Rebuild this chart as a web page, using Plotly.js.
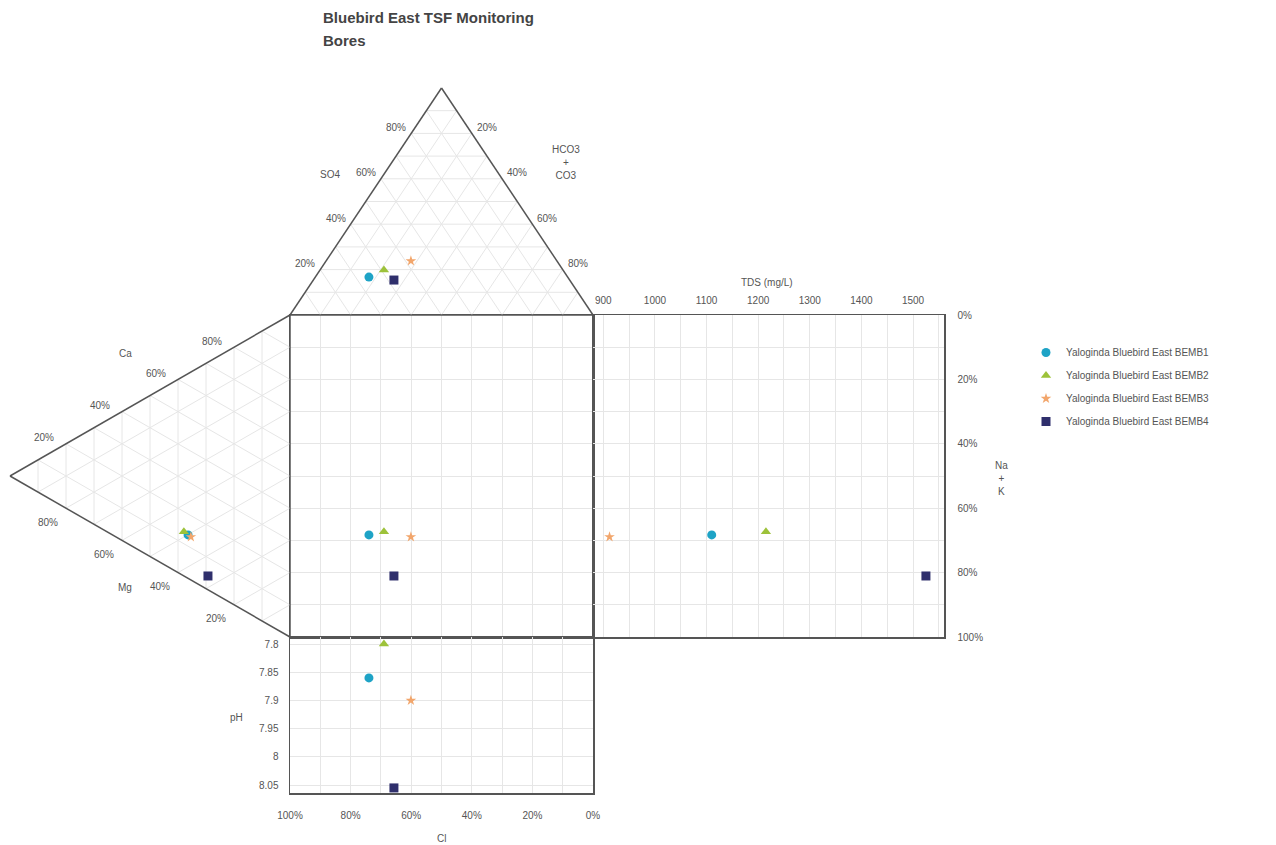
<!DOCTYPE html>
<html><head><meta charset="utf-8">
<script src="https://cdn.plot.ly/plotly-3.0.1.min.js"></script>
<style>html,body{margin:0;padding:0;background:#fff}#chart{width:1276px;height:845px}</style>
</head><body><div id="chart"></div>
<script>
// ---------------- DATA ----------------
const samples = ['Yaloginda Bluebird East BEMB1','Yaloginda Bluebird East BEMB2','Yaloginda Bluebird East BEMB3','Yaloginda Bluebird East BEMB4'];
// cations (% meq/L)
const ca  = [13.5, 13.7, 13.4, 4.3];
const mg  = [36.4, 37.9, 35.4, 29.3];
const naK = [50.1, 48.4, 51.2, 66.4];
// anions (% meq/L)
const cl   = [65.6, 59.1, 48.2, 58.0];
const so4  = [16.7, 19.8, 23.8, 15.4];
const hco3 = [17.7, 21.1, 28.0, 26.6];
// TDS (mg/L) and pH
const tds = [1110, 1215, 912, 1525];
const ph  = [7.86, 7.80, 7.90, 8.055];
const pctTicks = [0, 20, 40, 60, 80, 100];
const triTicks = [20, 40, 60, 80];
const titleLines = ['Bluebird East TSF Monitoring', 'Bores'];

// ---------------- STYLE / LAYOUT ----------------
const colors  = ['#1ea3c6', '#9dc23a', '#f2a66c', '#2f2f6c'];
const symbols = ['circle', 'triangle-up', 'star', 'square'];
const sizes   = [9, 9, 8, 9];
const W = 1276, H = 845;
const PX = {L: 290, R: 593, T: 315, B: 637, PB: 793, TR: 944, APEX_Y: 88, LAPEX_X: 10};
const sx = (PX.R - PX.L) / 100, sy = (PX.B - PX.T) / 100;
const TOP_H = (PX.T - PX.APEX_Y) / sy;
const LEFT_W = (PX.L - PX.LAPEX_X) / sx;
const fx = p => p / W, fy = p => 1 - p / H;
const FONT = 'Liberation Sans, Arial, sans-serif';
const TXT = '#555';
const GRID = '#e6e6e6';
const EDGE = '#555';

// geometry transforms (data % -> diagram units; square = 0..100 both ways, y down)
const topPt  = (s, h) => [s / 2 + h, -s / 100 * TOP_H];
const leftPt = (m, n) => [-LEFT_W * m / 100, m / 2 + n];

function segs(pairs) {
  const x = [], y = [];
  pairs.forEach(([a, b]) => { x.push(a[0], b[0], null); y.push(a[1], b[1], null); });
  return {x, y};
}
const steps = [10, 20, 30, 40, 50, 60, 70, 80, 90];
const topGrid = [], leftGrid = [];
steps.forEach(p => {
  topGrid.push([topPt(p, 0), topPt(p, 100 - p)]);
  topGrid.push([topPt(0, p), topPt(100 - p, p)]);
  topGrid.push([topPt(100 - p, 0), topPt(0, 100 - p)]);
  leftGrid.push([leftPt(p, 0), leftPt(p, 100 - p)]);
  leftGrid.push([leftPt(0, p), leftPt(100 - p, p)]);
  leftGrid.push([leftPt(100 - p, 0), leftPt(0, 100 - p)]);
});
const tg = segs(topGrid), lg = segs(leftGrid);
const topEdge = segs([[topPt(0,0), topPt(100,0)], [topPt(100,0), topPt(0,100)], [topPt(0,100), topPt(0,0)]]);
const leftEdge = segs([[leftPt(0,0), leftPt(100,0)], [leftPt(100,0), leftPt(0,100)], [leftPt(0,100), leftPt(0,0)]]);

const traces = [
  {type:'scatter', mode:'lines', x:tg.x, y:tg.y, xaxis:'x4', yaxis:'y4', line:{color:GRID, width:1}, hoverinfo:'skip', showlegend:false},
  {type:'scatter', mode:'lines', x:lg.x, y:lg.y, xaxis:'x4', yaxis:'y4', line:{color:GRID, width:1}, hoverinfo:'skip', showlegend:false},
  {type:'scatter', mode:'lines', x:topEdge.x, y:topEdge.y, xaxis:'x4', yaxis:'y4', line:{color:EDGE, width:1.5}, hoverinfo:'skip', showlegend:false},
  {type:'scatter', mode:'lines', x:leftEdge.x, y:leftEdge.y, xaxis:'x4', yaxis:'y4', line:{color:EDGE, width:1.5}, hoverinfo:'skip', showlegend:false}
];

samples.forEach((name, i) => {
  const mk = {color: colors[i], symbol: symbols[i], size: sizes[i]};
  const sqx = 100 - (so4[i] / 2 + hco3[i]);
  const sqy = mg[i] / 2 + naK[i];
  const tp = topPt(so4[i], hco3[i]);
  const lp = leftPt(mg[i], naK[i]);
  traces.push({type:'scatter', mode:'markers', name, legendgroup:'g'+i, x:[sqx], y:[sqy], xaxis:'x', yaxis:'y', marker:mk, showlegend:true});
  traces.push({type:'scatter', mode:'markers', name, legendgroup:'g'+i, x:[tds[i]], y:[sqy], xaxis:'x3', yaxis:'y3', marker:mk, showlegend:false});
  traces.push({type:'scatter', mode:'markers', name, legendgroup:'g'+i, x:[sqx], y:[ph[i]], xaxis:'x2', yaxis:'y2', marker:mk, showlegend:false, cliponaxis:false});
  traces.push({type:'scatter', mode:'markers', name, legendgroup:'g'+i, x:[tp[0], lp[0]], y:[tp[1], lp[1]], xaxis:'x4', yaxis:'y4', marker:mk, showlegend:false});
});

const tickFont = {family: FONT, size: 10, color: TXT};
const annotations = [];
const note = (px, py, text, extra) => annotations.push(Object.assign({xref:'paper', yref:'paper', x: fx(px), y: fy(py), text, showarrow:false, font: tickFont, xanchor:'center', yanchor:'middle'}, extra || {}));
const triNote = (pt, text, xanchor, xshift, yshift) => annotations.push({xref:'x4', yref:'y4', x:pt[0], y:pt[1], text, showarrow:false, font:tickFont, xanchor, yanchor:'middle', xshift, yshift});

triTicks.forEach(v => {
  triNote(topPt(v, 0), v + '%', 'right', -3, 6);
  triNote(topPt(100 - v, v), v + '%', 'left', 3, 6);
  triNote(leftPt(100 - v, 0), v + '%', 'right', -10, 6);
  triNote(leftPt(v, 100 - v), v + '%', 'right', -6, -14);
});

const titleFont = {family: FONT, size: 15, color: '#444'};
titleLines.forEach((t, k) => note(321, 17 + 23 * k, '<b>' + t + '</b>', {xanchor: 'left', font: titleFont}));
note(330, 175, 'SO4');
note(566, 162, 'HCO3<br>+<br>CO3');
note(125, 353, 'Ca');
note(125, 587, 'Mg');
note(767, 282, 'TDS (mg/L)');
note(1001, 478, 'Na<br>+<br>K');
note(236, 717, 'pH');
note(441, 838, 'Cl');

const layout = {
  width: W, height: H,
  margin: {l:0, r:0, t:0, b:0},
  paper_bgcolor: '#fff', plot_bgcolor: 'rgba(0,0,0,0)',
  font: {family: FONT, size: 10, color: TXT},
  showlegend: true,
  legend: {x: fx(1026), y: fy(338), xanchor: 'left', yanchor: 'top', font: {family: FONT, size: 10, color: TXT}, tracegroupgap: 4, bgcolor: 'rgba(0,0,0,0)'},
  xaxis: {domain: [fx(PX.L), fx(PX.R)], range: [100, 0], anchor: 'y', dtick: 10, showticklabels: false, ticks: '', gridcolor: GRID, zeroline: false, showline: true, mirror: true, linecolor: EDGE, linewidth: 1.5},
  yaxis: {domain: [fy(PX.B), fy(PX.T)], range: [100, 0], anchor: 'x', dtick: 10, showticklabels: false, ticks: '', gridcolor: GRID, zeroline: false, showline: true, mirror: true, linecolor: EDGE, linewidth: 1.5},
  xaxis2: {domain: [fx(PX.L), fx(PX.R)], range: [100, 0], anchor: 'y2', tickmode: 'array', tickvals: pctTicks, ticktext: pctTicks.map(v => v + '%'), ticks: '', ticklabelstandoff: 12, minor: {dtick: 10, tick0: 0, showgrid: true, gridcolor: GRID}, gridcolor: GRID, zeroline: false, showline: true, mirror: true, linecolor: EDGE, linewidth: 1.5, tickfont: tickFont},
  yaxis2: {domain: [fy(PX.PB), fy(PX.B)], range: [8.064, 7.7875], anchor: 'x2', dtick: 0.05, tick0: 7.8, ticks: '', ticklabelstandoff: 8, gridcolor: GRID, zeroline: false, showline: true, mirror: true, linecolor: EDGE, linewidth: 1.5, tickfont: tickFont},
  xaxis3: {domain: [fx(PX.R), fx(PX.TR)], range: [880, 1560], anchor: 'y3', side: 'top', dtick: 100, tick0: 0, ticks: '', ticklabelstandoff: 6, minor: {dtick: 50, showgrid: true, gridcolor: GRID}, gridcolor: GRID, zeroline: false, showline: true, mirror: true, linecolor: EDGE, linewidth: 1.5, tickfont: tickFont},
  yaxis3: {domain: [fy(PX.B), fy(PX.T)], range: [100, 0], anchor: 'x3', side: 'right', tickmode: 'array', tickvals: pctTicks, ticktext: pctTicks.map(v => v + '%'), ticks: '', ticklabelstandoff: 10, minor: {dtick: 10, tick0: 0, showgrid: true, gridcolor: GRID}, gridcolor: GRID, zeroline: false, showline: true, mirror: true, linecolor: EDGE, linewidth: 1.5, tickfont: tickFont},
  xaxis4: {domain: [0, 1], range: [-PX.L / sx, (W - PX.L) / sx], anchor: 'y4', visible: false, fixedrange: true},
  yaxis4: {domain: [0, 1], range: [(H - PX.T) / sy, -PX.T / sy], anchor: 'x4', visible: false, fixedrange: true},
  annotations
};

Plotly.newPlot('chart', traces, layout, {displayModeBar: false, staticPlot: true});
</script>
</body></html>
